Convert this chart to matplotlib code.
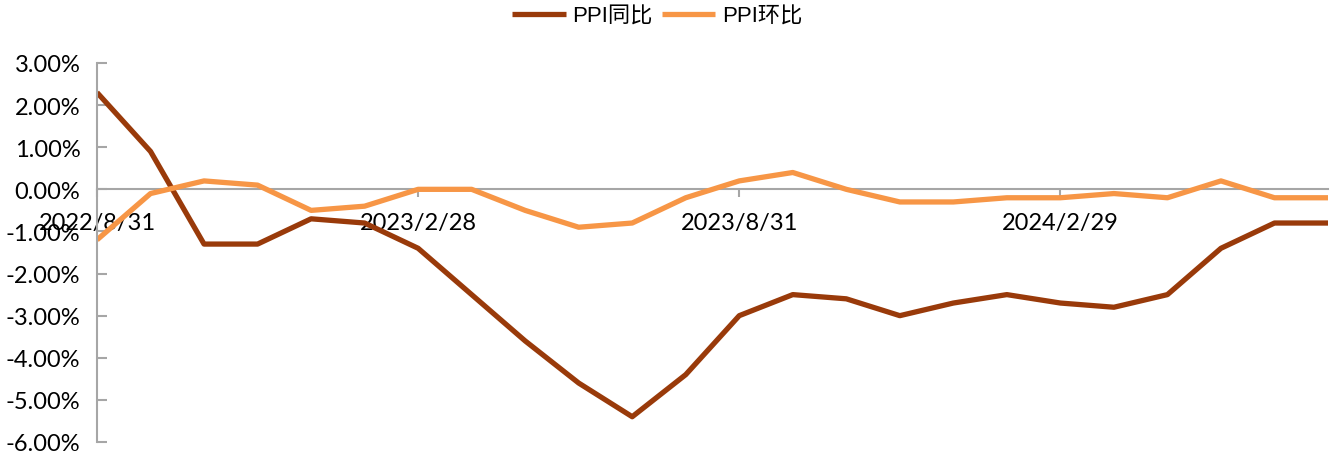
import matplotlib
matplotlib.use("Agg")
import matplotlib.pyplot as plt
from matplotlib.ticker import FuncFormatter

# Monthly data, 2022/8 - 2024/7 (%)
dates = ["2022/8/31", "2022/9/30", "2022/10/31", "2022/11/30", "2022/12/31",
         "2023/1/31", "2023/2/28", "2023/3/31", "2023/4/30", "2023/5/31",
         "2023/6/30", "2023/7/31", "2023/8/31", "2023/9/30", "2023/10/31",
         "2023/11/30", "2023/12/31", "2024/1/31", "2024/2/29", "2024/3/31",
         "2024/4/30", "2024/5/31", "2024/6/30", "2024/7/31"]
ppi_yoy = [2.3, 0.9, -1.3, -1.3, -0.7, -0.8, -1.4, -2.5, -3.6, -4.6, -5.4, -4.4,
           -3.0, -2.5, -2.6, -3.0, -2.7, -2.5, -2.7, -2.8, -2.5, -1.4, -0.8, -0.8]
ppi_mom = [-1.2, -0.1, 0.2, 0.1, -0.5, -0.4, 0.0, 0.0, -0.5, -0.9, -0.8, -0.2,
           0.2, 0.4, 0.0, -0.3, -0.3, -0.2, -0.2, -0.1, -0.2, 0.2, -0.2, -0.2]
yticks = [3, 2, 1, 0, -1, -2, -3, -4, -5, -6]

x = list(range(len(dates)))

fig = plt.figure(figsize=(13.36, 4.6), dpi=100)
ax = fig.add_axes([97 / 1336, 1 - 443 / 460, (1328 - 97) / 1336, (443 - 64) / 460])

ax.plot(x, ppi_yoy, color="#993A0A", lw=3.8, label="PPI同比", solid_capstyle="butt")
ax.plot(x, ppi_mom, color="#F79646", lw=3.8, label="PPI环比", solid_capstyle="butt")

ax.set_xlim(0, len(dates) - 1)
ax.set_ylim(-6, 3)
ax.set_yticks(yticks)
ax.yaxis.set_major_formatter(FuncFormatter(lambda v, p: "%.2f%%" % v))
ax.set_xticks(x[::6])
ax.set_xticklabels(dates[::6])

for s in ["top", "right"]:
    ax.spines[s].set_visible(False)
ax.spines["left"].set_color("#A6A6A6")
ax.spines["left"].set_linewidth(1.5)
ax.spines["bottom"].set_position(("data", 0))
ax.spines["bottom"].set_color("#A6A6A6")
ax.spines["bottom"].set_linewidth(1.5)
ax.spines["bottom"].set_zorder(0)

ax.tick_params(axis="y", direction="in", length=7, width=1.5, color="#A6A6A6",
               pad=12, labelsize=17)
ax.tick_params(axis="x", direction="out", length=6, width=1.5, color="#A6A6A6",
               pad=10, labelsize=17)
for lab in ax.get_xticklabels() + ax.get_yticklabels():
    lab.set_fontfamily("Lato")

fig.legend(loc="center", bbox_to_anchor=(0.492, 0.963), ncol=2, frameon=False,
           prop={"family": ["Liberation Sans", "Noto Sans CJK SC"], "size": 16},
           handlelength=2.4, handletextpad=0.3, columnspacing=0.4)

fig.savefig("out.png", dpi=100)
